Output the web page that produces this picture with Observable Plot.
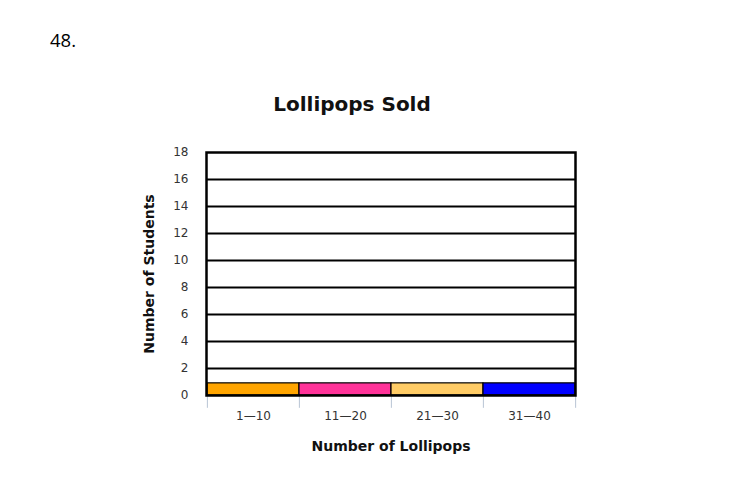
<!DOCTYPE html>
<html>
<head>
<meta charset="utf-8">
<script src="https://cdn.jsdelivr.net/npm/d3@7"></script>
<script src="https://cdn.jsdelivr.net/npm/@observablehq/plot@0.6"></script>
<style>
  html, body { margin: 0; padding: 0; background: #fff; }
  #wrap { position: relative; width: 732px; height: 491px; overflow: hidden; }
  #num { position: absolute; left: 50px; top: 27px; font-family: "Open Sans", "Liberation Sans", sans-serif; font-size: 18.5px; color: #000; }
  #title { position: absolute; left: 0; width: 704px; top: 92px; text-align: center; font-family: "DejaVu Sans", sans-serif; font-weight: bold; font-size: 20px; color: #111; }
  #chart { position: absolute; left: 0; top: 0; }
</style>
</head>
<body>
<div id="wrap">
  <div id="num">48.</div>
  <div id="title">Lollipops Sold</div>
  <div id="chart"></div>
</div>
<script>
const categories = ["1—10", "11—20", "21—30", "31—40"];
const students = [0.9, 0.9, 0.9, 0.9];
const barColors = ["#FFA500", "#FF3399", "#FFCC66", "#0000FF"];
const yTicks = [0, 2, 4, 6, 8, 10, 12, 14, 16, 18];
const gridValues = [2, 4, 6, 8, 10, 12, 14, 16];

const data = categories.map((c, i) => ({category: c, value: students[i], color: barColors[i]}));

const width = 732, height = 491;
const marginLeft = 206, marginRight = 157, marginTop = 152, marginBottom = 96;
const bandwidth = (width - marginLeft - marginRight) / categories.length;

const chart = Plot.plot({
  width, height, marginLeft, marginRight, marginTop, marginBottom,
  style: {fontFamily: "DejaVu Sans, sans-serif", fontSize: "12px", color: "#333", background: "transparent"},
  x: {domain: categories, padding: 0, label: null},
  y: {domain: [0, 18], label: null},
  marks: [
    Plot.ruleY(gridValues, {stroke: "#000", strokeWidth: 2}),
    Plot.barY(data, {x: "category", y: "value", fill: "color", stroke: "#000", strokeWidth: 1.2, inset: 0}),
    Plot.ruleX(data, {x: "category", y1: 0, y2: -0.95, stroke: "#b8c4d4", strokeWidth: 1, dx: -bandwidth / 2}),
    Plot.ruleX([categories[categories.length - 1]], {x: d => d, y1: 0, y2: -0.95, stroke: "#b8c4d4", strokeWidth: 1, dx: bandwidth / 2}),
    Plot.frame({stroke: "#000", strokeWidth: 2.5}),
    Plot.axisY({ticks: yTicks, tickSize: 0, tickPadding: 18, fontSize: 12, label: "Number of Students", labelArrow: "none", labelAnchor: "center", labelOffset: 62}),
    Plot.axisX({tickSize: 0, tickPadding: 16, fontSize: 12, label: "Number of Lollipops", labelArrow: "none", labelAnchor: "center", labelOffset: 55})
  ]
});
chart.querySelectorAll('[aria-label="y-axis label"] text, [aria-label="x-axis label"] text').forEach(t => {
  t.textContent = t.textContent.replace(/\s*[↑→]\s*$/, "").replace(/^\s*[↑→]\s*/, "");
  t.style.fontWeight = "bold";
  t.style.fontSize = "14px";
  t.style.fill = "#111";
});
document.getElementById("chart").appendChild(chart);
</script>
</body>
</html>
